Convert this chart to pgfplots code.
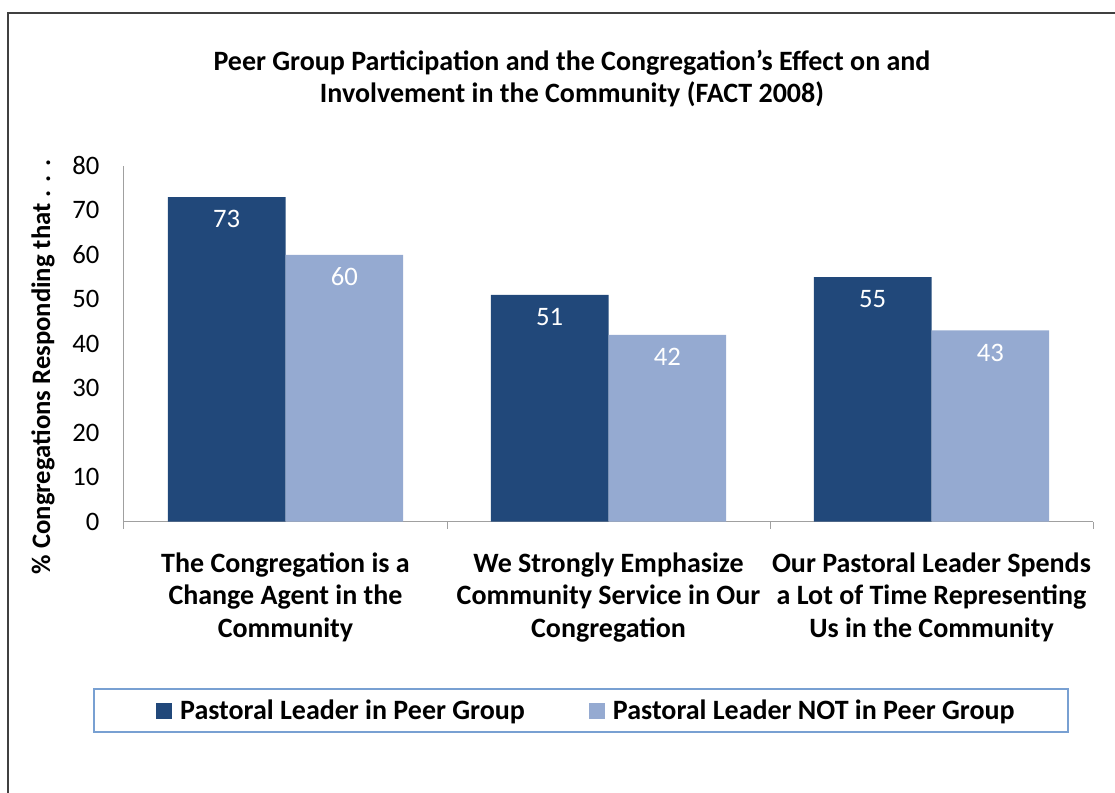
\documentclass[border=0pt]{standalone}
\usepackage{pgfplots}
\pgfplotsset{compat=1.18}
\usepackage{fontspec}
\setmainfont{Carlito}
\definecolor{darkbar}{RGB}{33,72,122}
\definecolor{lightbar}{RGB}{149,170,209}
\definecolor{axisgray}{RGB}{160,160,160}
\definecolor{legborder}{RGB}{120,160,210}
\definecolor{framegray}{RGB}{64,64,64}
\begin{document}
\begin{tikzpicture}
\useasboundingbox (0pt,0pt) rectangle (836.25pt,594.75pt);
\draw[framegray, line width=1.1pt] (6pt,-5pt) -- (6pt,585pt) -- (845pt,585pt);
\draw[legborder, line width=0.9pt] (70.5pt,45.75pt) rectangle (801pt,78pt);
\node[align=center, font=\fontsize{21}{24}\selectfont\bfseries] at (429pt,535.5pt)
  {Peer Group Participation and the Congregation’s Effect on and\\Involvement in the Community (FACT 2008)};
\node[rotate=90, font=\fontsize{20}{24}\selectfont\bfseries] at (32.25pt,319.5pt)
  {\% Congregations Responding that . . .};
\begin{axis}[
  at={(93pt,203.5pt)}, anchor=south west,
  scale only axis, width=726.75pt, height=266.8pt,
  xmin=-0.5, xmax=2.5, ymin=0, ymax=80,
  ybar=0pt, bar width=0.364,
  axis lines=left, axis line style={-, draw=axisgray, line width=0.75pt},
  xtick={0,1,2}, minor xtick={-0.5,0.5,1.5,2.5},
  ytick={0,10,...,80},
  major tick length=0pt, minor tick length=5.25pt, tick align=outside,
  tick style={draw=axisgray, line width=0.75pt},
  /pgf/number format/assume math mode=true,
  yticklabel style={font=\fontsize{20}{24}\selectfont, text=black, xshift=-15pt},
  xticklabels={{The Congregation is a\\Change Agent in the\\Community},
               {We Strongly Emphasize\\Community Service in Our\\Congregation},
               {Our Pastoral Leader Spends\\a Lot of Time Representing\\Us in the Community}},
  xticklabel style={align=center, font=\fontsize{21}{24.4}\selectfont\bfseries, text=black, yshift=-19.5pt},
  nodes near coords,
  every node near coord/.append style={anchor=center, yshift=-16.5pt, text=white, font=\fontsize{20}{24}\selectfont},
  legend columns=2,
  legend style={at={(0.4762,-0.5322)}, anchor=center, draw=none, fill=none,
    font=\fontsize{21}{24}\selectfont\bfseries, column sep=6pt,
    nodes={inner sep=0pt},
    /tikz/every even column/.append style={column sep=48pt}},
  legend image code/.code={\fill[#1,draw=none] (0pt,-6pt) rectangle (12pt,6pt);},
  clip=false,
]
\addplot[fill=darkbar, draw=none] coordinates {(0,73) (1,51) (2,55)};
\addplot[fill=lightbar, draw=none] coordinates {(0,60) (1,42) (2,43)};
\legend{Pastoral Leader in Peer Group, Pastoral Leader NOT in Peer Group}
\end{axis}
\end{tikzpicture}
\end{document}
